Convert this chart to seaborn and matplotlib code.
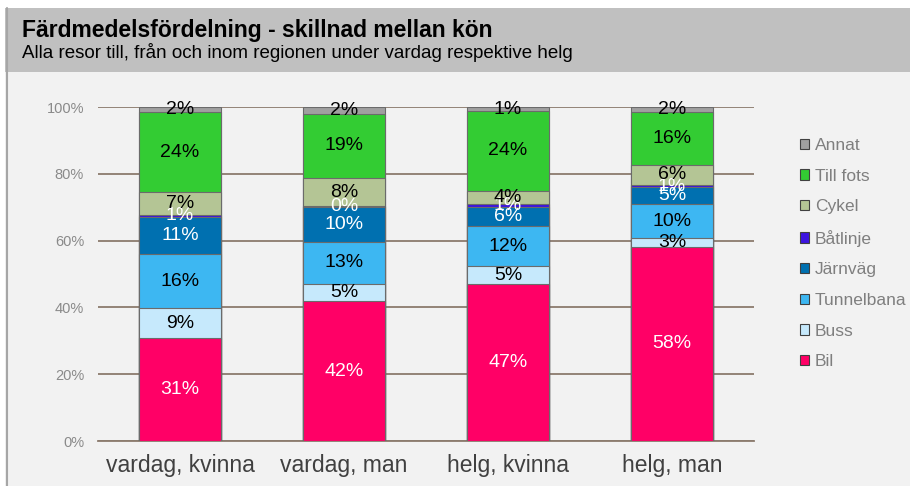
import pandas as pd
import seaborn as sns
import matplotlib.pyplot as plt
from matplotlib.patches import Rectangle, Patch
from matplotlib.lines import Line2D

sns.set_style("white")
plt.rcParams["font.family"] = ["Liberation Sans", "DejaVu Sans"]

# data (shares in %)
groups = ["vardag, kvinna", "vardag, man", "helg, kvinna", "helg, man"]
modes = ["Bil", "Buss", "Tunnelbana", "Järnväg", "Båtlinje", "Cykel", "Till fots", "Annat"]
bil = [30.8, 41.9, 47.0, 58.1]
buss = [9.0, 5.1, 5.3, 2.6]
tunnelbana = [16.2, 12.6, 12.1, 10.3]
jarnvag = [11.0, 10.4, 5.6, 5.0]
batlinje = [0.8, 0.3, 1.0, 0.6]
cykel = [6.7, 8.4, 4.0, 6.1]
till_fots = [23.9, 19.3, 23.8, 15.8]
annat = [1.6, 2.0, 1.2, 1.5]

colors = ["#ff0066", "#c6e9fc", "#3db7f2", "#0070b0", "#3c14e0", "#b4c595", "#33cc33", "#a0a0a0"]
text_colors = ["white", "black", "black", "white", "white", "black", "black", "black"]

df = pd.DataFrame({"grupp": groups, "Bil": bil, "Buss": buss, "Tunnelbana": tunnelbana,
                   "Järnväg": jarnvag, "Båtlinje": batlinje, "Cykel": cykel,
                   "Till fots": till_fots, "Annat": annat})
for m in modes:
    df[m] = df[m] / 100
cum = df[modes].cumsum(axis=1)
cum["grupp"] = df["grupp"]

fig = plt.figure(figsize=(9.1, 4.86), dpi=100)
W, H = 910, 486
# background panels
fig.patches.append(Rectangle((5 / W, 0), 1, 414 / H, transform=fig.transFigure,
                             facecolor="#f2f2f2", edgecolor="none", zorder=-2))
fig.patches.append(Rectangle((5 / W, 414 / H), 1, 64 / H, transform=fig.transFigure,
                             facecolor="#c0c0c0", edgecolor="none", zorder=-2))
fig.add_artist(Line2D([6.5 / W, 6.5 / W], [0, 478 / H], transform=fig.transFigure,
                      color="#a6a6a6", lw=1.5, zorder=-1))

fig.text(22 / W, 1 - 30 / H, "Färdmedelsfördelning - skillnad mellan kön",
         fontsize=16.5, fontweight="bold", va="center", color="black")
fig.text(22 / W, 1 - 53 / H, "Alla resor till, från och inom regionen under vardag respektive helg",
         fontsize=13.5, va="center", color="black")

ax = fig.add_axes([98 / W, 45 / H, (754 - 98) / W, 334 / H])
ax.set_facecolor("none")

# stacked bars: draw cumulative totals from top layer down
for i in range(len(modes) - 1, -1, -1):
    sns.barplot(data=cum, x="grupp", y=modes[i], color=colors[i], width=0.5,
                edgecolor="#6b6b6b", linewidth=0.8, saturation=1, ax=ax, zorder=3)

for j in range(len(groups)):
    for i, m in enumerate(modes):
        v = df.loc[j, m]
        mid = cum.loc[j, m] - v / 2
        ax.text(j, mid, f"{v * 100:.0f}%", ha="center", va="center",
                fontsize=14, color=text_colors[i], zorder=5)

ax.set_ylim(0, 1)
ax.set_xlim(-0.5, 3.5)
ax.set_yticks([0, 0.2, 0.4, 0.6, 0.8, 1.0])
ax.set_yticklabels(["0%", "20%", "40%", "60%", "80%", "100%"])
ax.yaxis.grid(True, color="#8c7b6e", lw=1.3, zorder=0)
ax.set_axisbelow(True)
for s in ["top", "right", "left"]:
    ax.spines[s].set_visible(False)
ax.spines["bottom"].set_color("#8c7b6e")
ax.spines["bottom"].set_linewidth(1.3)
ax.tick_params(axis="y", length=0, labelsize=10.5, labelcolor="#8a8a8a", pad=10)
ax.set_xticks([-0.5, 0.5, 1.5, 2.5, 3.5], minor=True)
ax.tick_params(axis="x", which="major", length=0, labelsize=16.5, labelcolor="#404040", pad=9)
ax.tick_params(axis="x", which="minor", length=5, color="#8c7b6e", width=1.3, direction="out")
ax.set_xlabel("")
ax.set_ylabel("")

handles = [Patch(facecolor=colors[i], edgecolor="#404040", linewidth=0.8, label=modes[i])
           for i in range(len(modes) - 1, -1, -1)]
fig.legend(handles=handles, loc="upper left", bbox_to_anchor=(793 / W, 1 - 131 / H),
           frameon=False, fontsize=12.5, labelcolor="#7f7f7f", handlelength=0.55,
           handleheight=0.55, handletextpad=0.3, labelspacing=0.9, borderaxespad=0)

fig.savefig("out.png", dpi=100)
